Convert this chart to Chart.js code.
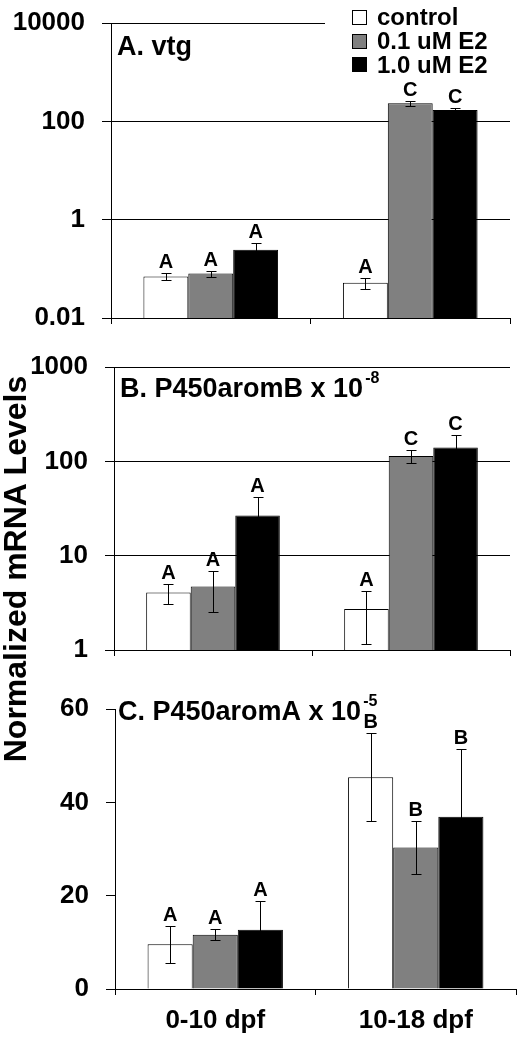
<!DOCTYPE html>
<html>
<head>
<meta charset="utf-8">
<script src="https://cdn.jsdelivr.net/npm/chart.js@4.4.1/dist/chart.umd.min.js"></script>
<style>
  body { margin:0; background:#fff; width:527px; height:1050px; position:relative; overflow:hidden; }
  canvas { position:absolute; left:0; }
  #ytitle { position:absolute; left:-238px; top:554px; width:500px; height:30px; line-height:30px; text-align:center;
            transform:rotate(-90deg); font:bold 32px "Liberation Sans", Arial, sans-serif; color:#000; white-space:nowrap; }
</style>
</head>
<body>
<canvas id="panelA" width="527" height="340" style="top:0"></canvas>
<canvas id="panelB" width="527" height="340" style="top:340px"></canvas>
<canvas id="panelC" width="527" height="370" style="top:680px"></canvas>
<div id="ytitle">Normalized mRNA Levels</div>
<script>
var FONT = '"Liberation Sans", Arial, sans-serif';

var groups = ['0-10 dpf', '10-18 dpf'];
var seriesNames = ['control', '0.1 uM E2', '1.0 uM E2'];
var seriesColors = ['#ffffff', '#808080', '#000000'];

// A. vtg (log scale)
var vtgTicks = [0.01, 1, 100, 10000];
var vtgControl = [0.07, 0.052];
var vtgLow = [0.08, 234];
var vtgHigh = [0.245, 171];
var vtgControlErr = [0.011, 0.013];
var vtgLowErr = [0.011, 30];
var vtgHighErr = [0.09, 20];
var vtgLetters = [['A', 'A'], ['A', 'C'], ['A', 'C']];

// B. P450aromB x 10^-8 (log scale)
var aromBTicks = [1, 10, 100, 1000];
var aromBControl = [4.06, 2.72];
var aromBLow = [4.7, 114];
var aromBHigh = [26.7, 140];
var aromBControlErr = [1.0, 1.55];
var aromBLowErr = [2.2, 17];
var aromBHighErr = [15, 50];
var aromBLetters = [['A', 'A'], ['A', 'C'], ['A', 'C']];

// C. P450aromA x 10^-5 (linear)
var aromATicks = [0, 20, 40, 60];
var aromAControl = [9.6, 45.4];
var aromALow = [11.6, 30.3];
var aromAHigh = [12.7, 36.9];
var aromAControlErr = [4.0, 9.4];
var aromALowErr = [1.2, 5.7];
var aromAHighErr = [6.1, 14.6];
var aromALetters = [['A', 'B'], ['A', 'B'], ['A', 'B']];

var panelPlugin = {
  id: 'panel',
  afterDatasetsDraw: function(chart) {
    var ctx = chart.ctx, ys = chart.scales.y;
    ctx.save();
    chart.data.datasets.forEach(function(ds, i) {
      var meta = chart.getDatasetMeta(i);
      meta.data.forEach(function(bar, j) {
        var v = ds.data[j], e = ds.err[j];
        var x = Math.round(bar.x) + 0.5;
        var yt = Math.round(ys.getPixelForValue(v + e)) + 0.5;
        var yb = Math.round(ys.getPixelForValue(Math.max(v - e, ys.min))) + 0.5;
        ctx.strokeStyle = '#000';
        ctx.lineWidth = 1;
        ctx.beginPath();
        ctx.moveTo(x, yt); ctx.lineTo(x, yb);
        ctx.moveTo(x - 5, yt); ctx.lineTo(x + 5, yt);
        ctx.moveTo(x - 5, yb); ctx.lineTo(x + 5, yb);
        ctx.stroke();
        ctx.fillStyle = '#000';
        ctx.font = 'bold 20px ' + FONT;
        ctx.textAlign = 'center';
        ctx.textBaseline = 'alphabetic';
        ctx.fillText(ds.letters[j], bar.x, yt - 6);
      });
    });
    ctx.restore();
  },
  afterDraw: function(chart, args, o) {
    var ctx = chart.ctx;
    ctx.save();
    ctx.fillStyle = '#000';
    ctx.textAlign = 'left';
    ctx.textBaseline = 'alphabetic';
    ctx.font = 'bold 27px ' + FONT;
    ctx.fillText(o.title, o.titleX, o.titleY);
    if (o.sup) {
      var w = ctx.measureText(o.title).width;
      ctx.font = 'bold 16px ' + FONT;
      ctx.fillText(o.sup, o.titleX + w + 2, o.titleY - 14);
    }
    if (o.legend) {
      ctx.fillStyle = '#fff';
      ctx.fillRect(325, 0, 202, 76);
      ctx.font = 'bold 24px ' + FONT;
      ctx.lineWidth = 1;
      ctx.strokeStyle = '#000';
      seriesNames.forEach(function(name, i) {
        var by = Math.round(10 + 23.5 * i) + 0.5;
        ctx.fillStyle = seriesColors[i];
        ctx.fillRect(352.5, by, 14, 14);
        ctx.strokeRect(352.5, by, 14, 14);
        ctx.fillStyle = '#000';
        ctx.fillText(name, 377, 25 + 24 * i);
      });
    }
    ctx.restore();
  }
};

function makePanel(id, p) {
  var datasets = p.values.map(function(vals, i) {
    return {
      label: seriesNames[i],
      data: vals,
      err: p.errs[i],
      letters: p.letters[i],
      backgroundColor: seriesColors[i],
      borderColor: '#000',
      borderWidth: 1,
      categoryPercentage: 0.675,
      barPercentage: 1.0
    };
  });
  var tickFont = { family: FONT, size: 26, weight: 'bold' };
  return new Chart(document.getElementById(id), {
    type: 'bar',
    data: { labels: groups, datasets: datasets },
    plugins: [panelPlugin],
    options: {
      responsive: false,
      animation: false,
      devicePixelRatio: 1,
      layout: { padding: { left: 0, top: p.top, right: p.right, bottom: 0 } },
      plugins: {
        legend: { display: false },
        tooltip: { enabled: false },
        panel: { title: p.title, sup: p.sup, titleX: p.titleX, titleY: p.titleY, legend: p.legend }
      },
      scales: {
        x: {
          grid: { drawOnChartArea: false, drawTicks: true, tickLength: 6, color: '#000', offset: true },
          border: { display: true, color: '#000', width: 1 },
          ticks: { display: p.showLabels, color: '#000', font: tickFont, padding: 10, maxRotation: 0 },
          afterFit: function(s) {
            s.height = p.xHeight;
            s.paddingLeft = 0; s.paddingRight = 0;
          }
        },
        y: {
          type: p.yType,
          min: p.ticks[0],
          max: p.ticks[p.ticks.length - 1],
          grid: { drawOnChartArea: p.gridLines, color: '#000', lineWidth: 1, tickLength: 9 },
          border: { display: true, color: '#000', width: 1 },
          ticks: { color: '#000', font: tickFont, padding: 17, callback: function(v) { return String(v); } },
          afterBuildTicks: function(s) { s.ticks = p.ticks.map(function(v) { return { value: v }; }); },
          afterFit: function(s) {
            s.width = p.yWidth;
            s.paddingTop = 0; s.paddingBottom = 0;
          }
        }
      }
    }
  });
}

makePanel('panelA', {
  values: [vtgControl, vtgLow, vtgHigh],
  errs: [vtgControlErr, vtgLowErr, vtgHighErr],
  letters: vtgLetters,
  yType: 'logarithmic', ticks: vtgTicks, gridLines: true,
  top: 23, right: 17, yWidth: 111, xHeight: 22, showLabels: false,
  title: 'A. vtg', titleX: 117, titleY: 55, legend: true
});

makePanel('panelB', {
  values: [aromBControl, aromBLow, aromBHigh],
  errs: [aromBControlErr, aromBLowErr, aromBHighErr],
  letters: aromBLetters,
  yType: 'logarithmic', ticks: aromBTicks, gridLines: true,
  top: 27, right: 17, yWidth: 114, xHeight: 30, showLabels: false,
  title: 'B. P450aromB x 10', sup: '-8', titleX: 120, titleY: 57
});

makePanel('panelC', {
  values: [aromAControl, aromALow, aromAHigh],
  errs: [aromAControlErr, aromALowErr, aromAHighErr],
  letters: aromALetters,
  yType: 'linear', ticks: aromATicks, gridLines: false,
  top: 29, right: 11, yWidth: 115, xHeight: 61, showLabels: true,
  title: 'C. P450aromA x 10', sup: '-5', titleX: 118, titleY: 40
});
</script>
</body>
</html>
